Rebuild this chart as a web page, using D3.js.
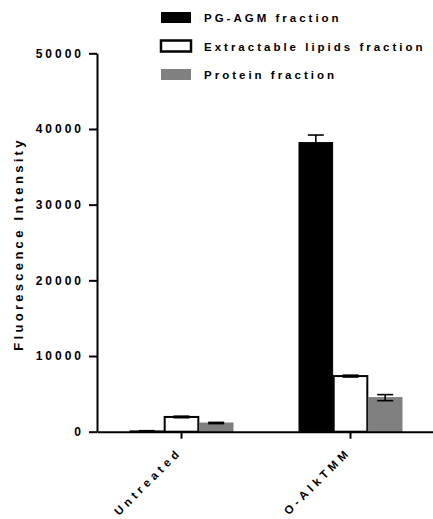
<!DOCTYPE html>
<html lang="en">
<head>
    <meta charset="UTF-8">
    <title>Fluorescence Intensity</title>
    <script src="https://cdn.jsdelivr.net/npm/d3@7"></script>
    <style>
        body { margin: 0; background: #fff; }
        text { font-family: "Liberation Sans", Arial, sans-serif; font-weight: bold; }
    </style>
</head>
<body>
<script type="text/javascript">
    var categories = ['Untreated', 'O-AlkTMM'];
    var series = ['PG-AGM fraction', 'Extractable lipids fraction', 'Protein fraction'];
    var pgValues = [100, 38200];
    var pgErrors = [30, 1000];
    var lipidValues = [1950, 7350];
    var lipidErrors = [100, 120];
    var proteinValues = [1150, 4500];
    var proteinErrors = [80, 400];
    var yTicks = [0, 10000, 20000, 30000, 40000, 50000];

    var fills = ['#000000', '#ffffff', '#808080'];
    var strokes = ['#000000', '#000000', '#808080'];

    var width = 433;
    var height = 519;
    var svg = d3.select('body').append('svg')
            .attr('width', width)
            .attr('height', height);

    var rows = [];
    var allValues = [pgValues, lipidValues, proteinValues];
    var allErrors = [pgErrors, lipidErrors, proteinErrors];
    categories.forEach(function (c, i) {
        series.forEach(function (s, j) {
            rows.push({cat: c, ser: s, idx: j, value: allValues[j][i], err: allErrors[j][i]});
        });
    });

    var y = d3.scaleLinear().domain([0, 50000]).range([431.7, 53.3]);
    var x0 = d3.scaleBand().domain(categories).range([97, 435]).paddingOuter(0);
    var x1 = d3.scaleBand().domain(series).range([0, 103]).paddingInner(0.03);

    // bars
    svg.selectAll('rect.bar')
            .data(rows)
            .enter()
            .append('rect')
            .attr('class', 'bar')
            .attr('x', function (d) { return x0(d.cat) + x0.bandwidth() / 2 - 51.5 + x1(d.ser); })
            .attr('y', function (d) { return y(d.value); })
            .attr('width', x1.bandwidth())
            .attr('height', function (d) { return y(0) - y(d.value); })
            .attr('fill', function (d) { return fills[d.idx]; })
            .attr('stroke', function (d) { return strokes[d.idx]; })
            .attr('stroke-width', function (d) { return d.idx === 1 ? 2 : 1; });

    // error bars
    var eb = svg.selectAll('g.err')
            .data(rows)
            .enter()
            .append('g')
            .attr('class', 'err')
            .attr('transform', function (d) {
                return 'translate(' + (x0(d.cat) + x0.bandwidth() / 2 - 51.5 + x1(d.ser) + x1.bandwidth() / 2) + ',0)';
            })
            .attr('stroke', '#000')
            .attr('stroke-width', 1.6);
    eb.append('line')
            .attr('y1', function (d) { return y(d.value - d.err); })
            .attr('y2', function (d) { return y(d.value + d.err); });
    eb.append('line')
            .attr('x1', -8).attr('x2', 8)
            .attr('y1', function (d) { return y(d.value + d.err); })
            .attr('y2', function (d) { return y(d.value + d.err); });
    eb.append('line')
            .attr('x1', -8).attr('x2', 8)
            .attr('y1', function (d) { return y(d.value - d.err); })
            .attr('y2', function (d) { return y(d.value - d.err); });

    // y axis
    var yAxis = svg.append('g')
            .attr('transform', 'translate(97,0)')
            .call(d3.axisLeft(y).tickValues(yTicks).tickSize(8).tickSizeOuter(0).tickPadding(5).tickFormat(d3.format('d')));
    yAxis.select('.domain').attr('stroke-width', 2);
    yAxis.selectAll('.tick line').attr('stroke-width', 2);
    yAxis.selectAll('.tick text')
            .attr('font-size', '12px')
            .attr('letter-spacing', '3px')
            .attr('fill', '#000');

    // x axis
    var xAxis = svg.append('g')
            .attr('transform', 'translate(0,' + y(0) + ')')
            .call(d3.axisBottom(x0).tickSize(7).tickSizeOuter(0));
    xAxis.select('.domain').attr('stroke-width', 2);
    xAxis.selectAll('.tick line').attr('stroke-width', 2);
    xAxis.selectAll('.tick text')
            .attr('font-size', '11.5px')
            .attr('letter-spacing', '4px')
            .attr('fill', '#000')
            .attr('text-anchor', 'end')
            .attr('x', 0)
            .attr('y', 0)
            .attr('dy', null)
            .attr('transform', 'translate(1,21) rotate(-45)');

    // y label
    svg.append('text')
            .attr('transform', 'translate(23,244) rotate(-90)')
            .attr('text-anchor', 'middle')
            .attr('font-size', '13px')
            .attr('letter-spacing', '3.3px')
            .text('Fluorescence Intensity');

    // legend
    var legend = svg.selectAll('g.legend')
            .data(series)
            .enter()
            .append('g')
            .attr('class', 'legend')
            .attr('transform', function (d, i) { return 'translate(161,' + (12 + i * 28.5) + ')'; });
    legend.append('rect')
            .attr('width', 30)
            .attr('height', 11)
            .attr('fill', function (d, i) { return fills[i]; })
            .attr('stroke', function (d, i) { return i === 1 ? '#000' : 'none'; })
            .attr('stroke-width', 2.5);
    legend.append('text')
            .attr('x', 43)
            .attr('y', 10)
            .attr('font-size', '11.5px')
            .attr('letter-spacing', '3px')
            .text(function (d) { return d; });
</script>
</body>
</html>
